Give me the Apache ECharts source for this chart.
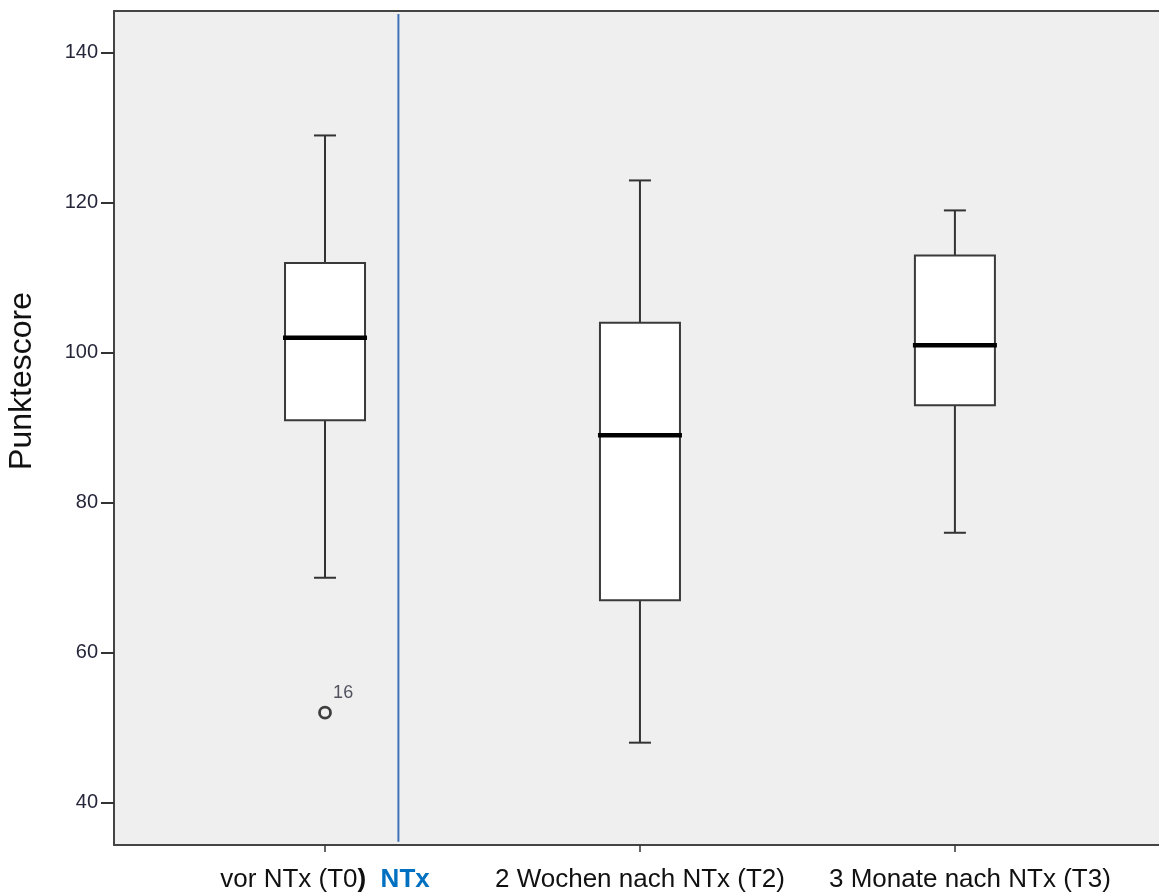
<!DOCTYPE html>
<html>
<head>
<meta charset="utf-8">
<script src="https://cdn.jsdelivr.net/npm/echarts@6/dist/echarts.min.js"></script>
<style>
  html, body { margin: 0; padding: 0; background: #ffffff; }
  #chart { width: 1159px; height: 895px; }
</style>
</head>
<body>
<div id="chart"></div>
<script>
// Measurement times
const categories = ['vor NTx (T0)', '2 Wochen nach NTx (T2)', '3 Monate nach NTx (T3)'];
// Box plot statistics per time point
const lowerWhisker = [70, 48, 76];
const quartile1    = [91, 67, 93];
const median       = [102, 89, 101];
const quartile3    = [112, 104, 113];
const upperWhisker = [129, 123, 119];
// Outliers: [category index, value, case number]
const outliers = [[0, 52, '16']];
// Treatment marker between T0 and T2
const phaseLabel = 'NTx';
const phasePosition = 0.233;
const phaseSpan = [34.8, 145.2];
// Y axis
const yTicks = [40, 60, 80, 100, 120, 140];
const yRange = [34.35, 145.6];
const xRange = [-0.67, 2.648];
const yTitle = 'Punktescore';

const FONT = "'Liberation Sans', Arial, sans-serif";
const INK = '#333333';
const FRAME = '#444444';

const boxData = categories.map((c, i) => [i, lowerWhisker[i], quartile1[i], median[i], quartile3[i], upperWhisker[i]]);

function renderBox(params, api) {
  const x = api.value(0);
  const pLo = api.coord([x, api.value(1)]);
  const pQ1 = api.coord([x, api.value(2)]);
  const pMd = api.coord([x, api.value(3)]);
  const pQ3 = api.coord([x, api.value(4)]);
  const pHi = api.coord([x, api.value(5)]);
  const cx = pMd[0];
  const hb = 40, hc = 11, hm = 42;
  const line = { stroke: INK, lineWidth: 2 };
  return {
    type: 'group',
    children: [
      { type: 'line', shape: { x1: cx, y1: pHi[1], x2: cx, y2: pQ3[1] }, style: line },
      { type: 'line', shape: { x1: cx, y1: pQ1[1], x2: cx, y2: pLo[1] }, style: line },
      { type: 'line', shape: { x1: cx - hc, y1: pHi[1], x2: cx + hc, y2: pHi[1] }, style: line },
      { type: 'line', shape: { x1: cx - hc, y1: pLo[1], x2: cx + hc, y2: pLo[1] }, style: line },
      { type: 'rect', shape: { x: cx - hb, y: pQ3[1], width: hb * 2, height: pQ1[1] - pQ3[1] },
        style: { fill: '#ffffff', stroke: '#3a3a3a', lineWidth: 2 } },
      { type: 'line', shape: { x1: cx - hm, y1: pMd[1], x2: cx + hm, y2: pMd[1] },
        style: { stroke: '#000000', lineWidth: 4.5 } }
    ]
  };
}

const chart = echarts.init(document.getElementById('chart'), null, { renderer: 'canvas' });

chart.setOption({
  animation: false,
  backgroundColor: '#ffffff',
  grid: {
    left: 114, right: 0, top: 11, bottom: 50,
    show: true, backgroundColor: '#efefef', borderWidth: 0
  },
  xAxis: [{
    type: 'value',
    min: xRange[0], max: xRange[1],
    splitLine: { show: false },
    axisLine: { show: true, onZero: false, lineStyle: { color: FRAME, width: 2 } },
    axisTick: { show: true, customValues: categories.map((c, i) => i), length: 7, lineStyle: { color: INK, width: 1.5 } },
    axisLabel: {
      show: true,
      customValues: categories.map((c, i) => i),
      margin: 22,
      formatter: function (v) {
        const i = Math.round(v);
        const t = categories[i];
        if (i === 0) {
          return '{r|' + t.slice(0, -1) + '}{b|' + t.slice(-1) + '}{r|  }{n|' + phaseLabel + '}';
        }
        if (i === categories.length - 1) {
          return '{g|}{r|' + t + '}';
        }
        return '{r|' + t + '}';
      },
      rich: {
        r: { fontFamily: FONT, fontSize: 26, color: '#111111' },
        b: { fontFamily: FONT, fontSize: 26, color: '#111111', fontWeight: 'bold' },
        n: { fontFamily: FONT, fontSize: 26, color: '#0070c0', fontWeight: 'bold' },
        g: { width: 30 }
      }
    }
  }, {
    // top frame line only
    type: 'value',
    position: 'top',
    min: xRange[0], max: xRange[1],
    splitLine: { show: false },
    axisLine: { show: true, onZero: false, lineStyle: { color: FRAME, width: 2 } },
    axisTick: { show: false },
    axisLabel: { show: false }
  }],
  yAxis: {
    type: 'value',
    min: yRange[0], max: yRange[1],
    splitLine: { show: false },
    axisLine: { show: true, onZero: false, lineStyle: { color: FRAME, width: 2 } },
    axisTick: { show: true, customValues: yTicks, length: 13, lineStyle: { color: INK, width: 2 } },
    axisLabel: {
      show: true, customValues: yTicks, margin: 16,
      fontFamily: FONT, fontSize: 20, color: '#26263a'
    }
  },
  graphic: [{
    type: 'text',
    x: 22, y: 381,
    rotation: Math.PI / 2,
    style: {
      text: yTitle, fontFamily: FONT, fontSize: 32, fill: '#111111',
      align: 'center', verticalAlign: 'middle'
    }
  }],
  series: [
    {
      type: 'line',
      data: [[phasePosition, phaseSpan[0]], [phasePosition, phaseSpan[1]]],
      symbol: 'none',
      lineStyle: { color: '#3f72b8', width: 2 },
      silent: true, z: 3
    },
    {
      type: 'custom',
      renderItem: renderBox,
      data: boxData,
      encode: { x: 0, y: [1, 2, 3, 4, 5] },
      z: 4
    },
    {
      type: 'scatter',
      data: outliers.map(o => [o[0], o[1], o[2]]),
      symbol: 'circle',
      symbolSize: 11,
      itemStyle: { color: 'rgba(0,0,0,0)', borderColor: '#111111', borderWidth: 2.8 },
      label: {
        show: true,
        position: [15, -22],
        align: 'left', verticalAlign: 'top',
        formatter: p => p.data[2],
        fontFamily: FONT, fontSize: 18, color: '#2b2b3b'
      },
      z: 5
    }
  ]
});
</script>
</body>
</html>
